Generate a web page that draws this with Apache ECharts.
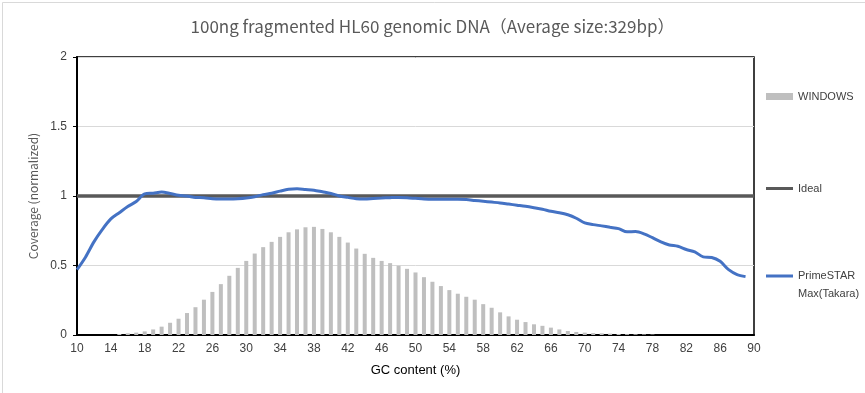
<!DOCTYPE html>
<html>
<head>
<meta charset="utf-8">
<script src="https://cdn.jsdelivr.net/npm/echarts@6/dist/echarts.min.js"></script>
<style>
html,body{margin:0;padding:0;background:#fff;}
#c{width:865px;height:393px;}
</style>
</head>
<body>
<div id="c"></div>
<script>
const titleText = '100ng fragmented HL60 genomic DNA（Average size:329bp）';
const xTicks = [10,14,18,22,26,30,34,38,42,46,50,54,58,62,66,70,74,78,82,86,90];
const yTicks = [0,0.5,1,1.5,2];
const windowsGC = [15,16,17,18,19,20,21,22,23,24,25,26,27,28,29,30,31,32,33,34,35,36,37,38,39,40,41,42,43,44,45,46,47,48,49,50,51,52,53,54,55,56,57,58,59,60,61,62,63,64,65,66,67,68,69,70,71,72,73,74,75,76,77,78];
const windowsVal = [0.007,0.012,0.017,0.026,0.04,0.06,0.088,0.117,0.158,0.2,0.254,0.31,0.366,0.426,0.483,0.533,0.586,0.632,0.67,0.706,0.739,0.76,0.775,0.778,0.763,0.739,0.706,0.665,0.622,0.584,0.555,0.533,0.517,0.498,0.476,0.45,0.416,0.383,0.352,0.323,0.297,0.275,0.254,0.222,0.196,0.163,0.134,0.11,0.093,0.077,0.066,0.053,0.04,0.029,0.022,0.017,0.014,0.012,0.01,0.007,0.006,0.005,0.004,0.003];
const idealGC = [10,90];
const idealVal = [1,1];
const primeGC = [10,11,12,13,14,15,16,17,18,19,20,21,22,23,24,25,26,27,28,29,30,31,32,33,34,35,36,37,38,39,40,41,42,43,44,45,46,47,48,49,50,51,52,53,54,55,56,57,58,59,60,61,62,63,64,65,66,67,68,69,70,71,72,73,74,75,76,77,78,79,80,81,82,83,84,85,86,87,88,89];
const primeVal = [0.47,0.56,0.67,0.76,0.835,0.88,0.925,0.96,1.015,1.02,1.028,1.018,1.005,1.0,0.99,0.988,0.98,0.978,0.978,0.98,0.985,0.995,1.01,1.02,1.035,1.048,1.052,1.047,1.042,1.03,1.018,1.0,0.99,0.98,0.978,0.982,0.985,0.988,0.99,0.988,0.983,0.978,0.976,0.976,0.976,0.976,0.974,0.968,0.962,0.956,0.95,0.942,0.934,0.926,0.916,0.905,0.89,0.88,0.865,0.84,0.806,0.794,0.785,0.775,0.765,0.742,0.744,0.728,0.70,0.67,0.648,0.638,0.615,0.598,0.562,0.558,0.53,0.47,0.435,0.42];

const zip = (a,b) => a.map((v,i)=>[v,b[i]]);
const chart = echarts.init(document.getElementById('c'));
const legText = {fontFamily:'Liberation Sans, Arial, sans-serif', fontSize:11, color:'#404040'};
chart.setOption({
  animation:false,
  backgroundColor:'#fff',
  title:{text:titleText,left:'center',top:13,textStyle:{fontFamily:'Noto Sans CJK JP',fontSize:17,fontWeight:'normal',color:'#595959'}},
  grid:{left:77,right:111,top:57,bottom:58,show:true,borderColor:'#000',borderWidth:1.5},
  legend:[
    {data:['WINDOWS'],left:761,top:86,itemWidth:27,itemHeight:7,itemGap:0,icon:'rect',textStyle:legText},
    {data:['Ideal'],left:761,top:178,itemWidth:27,itemHeight:3,icon:'rect',textStyle:legText},
    {data:['PrimeSTAR Max(Takara)'],left:761,top:262,itemWidth:27,itemHeight:21,
     icon:'path://M0,0L27,0L27,3L0,3Z M0,21L27,21Z',
     formatter:()=> 'PrimeSTAR\nMax(Takara)',textStyle:Object.assign({lineHeight:18},legText)}
  ],
  xAxis:{type:'value',min:10,max:90,interval:4,name:'GC content (%)',nameLocation:'middle',nameGap:29,
    nameTextStyle:{fontFamily:'Liberation Sans, Arial, sans-serif',fontSize:13,color:'#000'},
    axisLine:{lineStyle:{color:'#000',width:2}},axisTick:{show:false},splitLine:{show:false},
    axisLabel:{fontFamily:'Liberation Sans, Arial, sans-serif',fontSize:12,color:'#404040',margin:8,
      formatter:v=> xTicks.includes(v)? String(v):''}},
  yAxis:{type:'value',min:0,max:2,interval:0.5,name:'Coverage (normalized)',nameLocation:'middle',nameGap:32,
    nameTextStyle:{fontFamily:'Noto Sans CJK JP',fontSize:12,color:'#595959'},
    axisLine:{show:true,lineStyle:{color:'#000',width:2}},axisTick:{show:true,length:4,lineStyle:{color:'#000'}},
    splitLine:{lineStyle:{color:'#d9d9d9',width:1}},
    axisLabel:{fontFamily:'Liberation Sans, Arial, sans-serif',fontSize:12,color:'#404040',margin:10,
      formatter:v=> yTicks.includes(v)? String(v):''}},
  series:[
    {name:'WINDOWS',type:'bar',barWidth:4,data:zip(windowsGC,windowsVal),itemStyle:{color:'#BFBFBF'},z:1},
    {name:'Ideal',type:'line',data:zip(idealGC,idealVal),symbol:'none',lineStyle:{color:'#595959',width:3.5},itemStyle:{color:'#595959'},z:2},
    {name:'PrimeSTAR Max(Takara)',type:'line',data:zip(primeGC,primeVal),symbol:'none',smooth:0.3,lineStyle:{color:'#4472C4',width:3},itemStyle:{color:'#4472C4'},z:3}
  ],
  graphic:[{type:'rect',left:0,top:0,shape:{width:864,height:392},style:{fill:'none',stroke:'#d9d9d9',lineWidth:1},silent:true}]
});
</script>
</body>
</html>
